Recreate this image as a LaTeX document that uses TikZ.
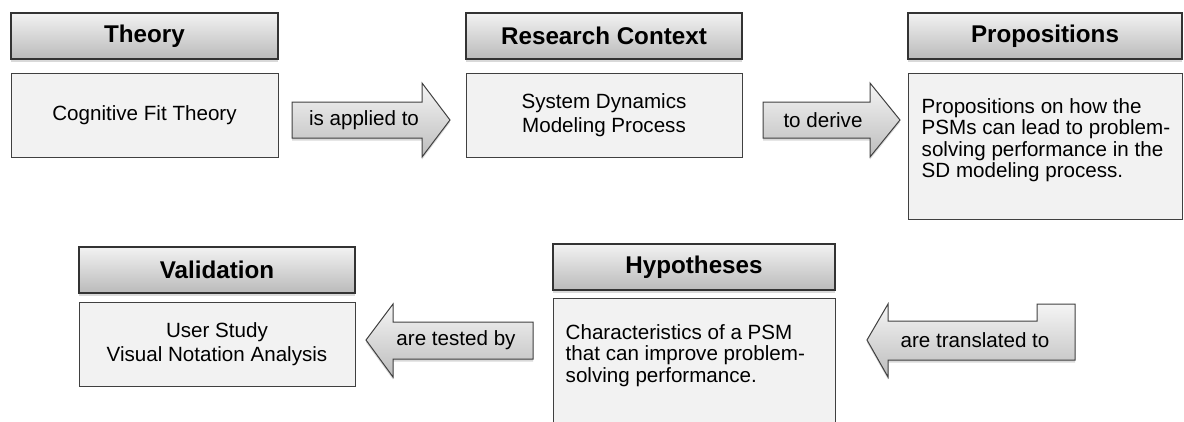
\documentclass[tikz,border=0pt]{standalone}
\usepackage{fontspec}
\setmainfont{Liberation Sans}
\usetikzlibrary{shadows,positioning}

\begin{document}
\begin{tikzpicture}[x=1pt, y=-1pt]
        \tikzstyle{header} = [rectangle, draw=black!80, line width=1.1pt, top color=black!5, bottom color=black!27, drop shadow={shadow xshift=0pt, shadow yshift=-2.5pt, opacity=0.3}, inner sep=0pt, font=\fontsize{24.2}{26}\selectfont\bfseries]
        \tikzstyle{contentbox} = [rectangle, draw=black!75, line width=1pt, fill=black!5, inner sep=0pt, align=center, font=\fontsize{20.6}{24.5}\selectfont]
        \tikzstyle{blockarrow} = [draw=black!75, line width=1pt, top color=black!4, bottom color=black!26, drop shadow={shadow xshift=0pt, shadow yshift=-2.5pt, opacity=0.3}]
        \tikzstyle{arrowtext} = [inner sep=0pt, font=\fontsize{20.6}{21}\selectfont]
        \tikzstyle{longtext} = [inner sep=0pt, align=left, anchor=north west, font=\fontsize{20.6}{21.2}\selectfont]

\useasboundingbox (0,0) rectangle (1184,421);

% top row
        \node[header, minimum width=267pt, minimum height=46pt] (theoryHead) at (144.5,36) {Theory};
        \node[contentbox, minimum width=267pt, minimum height=84pt] (theoryBox) at (144.5,115) {Cognitive Fit Theory};

\node[header, minimum width=276pt, minimum height=46pt] (contextHead) at (604,36) {Research Context};
        \node[contentbox, minimum width=276pt, minimum height=84pt] (contextBox) at (604,115) {System Dynamics\\Modeling Process};

\node[header, minimum width=274pt, minimum height=46pt] (propHead) at (1045,36) {Propositions};
        \node[contentbox, minimum width=274pt, minimum height=146pt] (propBox) at (1045,146) {};
        \node[longtext] (propText) at ([xshift=14pt,yshift=-26pt]propBox.north west) {Propositions on how the\\PSMs can lead to problem-\\solving performance in the\\SD modeling process.};

% bottom row
        \node[header, minimum width=276pt, minimum height=46pt] (validHead) at (217,270) {Validation};
        \node[contentbox, minimum width=276pt, minimum height=84pt] (validBox) at (217,344) {User Study\\Visual Notation Analysis};

\node[header, minimum width=282pt, minimum height=46pt] (hypHead) at (694,267) {Hypotheses};
        \node[contentbox, minimum width=282pt, minimum height=150pt] (hypBox) at (694,373) {};
        \node[longtext] (hypText) at ([xshift=13pt,yshift=-27pt]hypBox.north west) {Characteristics of a PSM\\that can improve problem-\\solving performance.};

% block arrows
        \draw[blockarrow] (292,102) -- (422,102) -- (422,83) -- (450,120) -- (422,157) -- (422,138) -- (292,138) -- cycle;
        \node[arrowtext] (applied) at (364,120) {is applied to};

\draw[blockarrow] (763,102) -- (870,102) -- (870,83) -- (900,120) -- (870,157) -- (870,138) -- (763,138) -- cycle;
        \node[arrowtext] (derive) at (823,120) {to derive};

\draw[blockarrow] (533,322) -- (393,322) -- (393,304) -- (366,340) -- (393,377) -- (393,359) -- (533,359) -- cycle;
        \node[arrowtext] (tested) at (456,340) {are tested by};

\draw[blockarrow] (1075,304) -- (1037,304) -- (1037,321) -- (888,321) -- (888,304) -- (867,340) -- (888,377) -- (888,360) -- (1075,360) -- cycle;
        \node[arrowtext] (translated) at (975,340) {are translated to};

\end{tikzpicture}
\end{document}
